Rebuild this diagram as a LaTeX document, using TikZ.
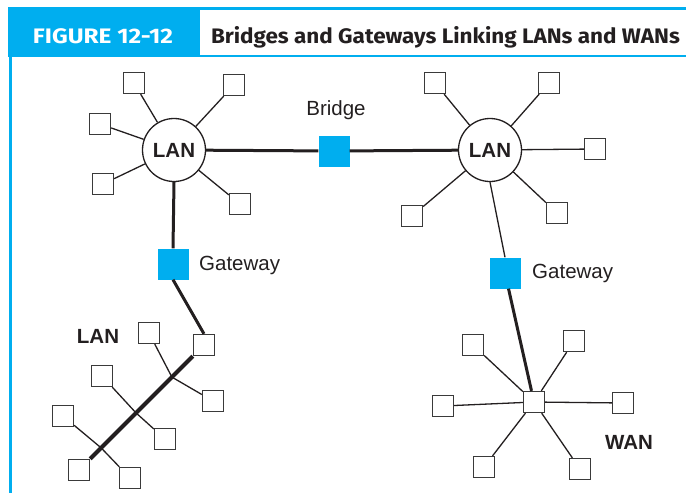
\documentclass[tikz,border=0pt]{standalone}
\usepackage{fontspec}
\usepackage{graphicx}
\setmainfont{Liberation Sans}
\newfontfamily\headfont{Fira Sans}
\usetikzlibrary{calc}

\definecolor{figblue}{HTML}{00AEEF}
\definecolor{ink}{HTML}{231F20}
\definecolor{boxline}{HTML}{3A3A3A}

\tikzset{
  term/.style={draw=boxline, line width=1.3pt, fill=white, minimum size=21pt, inner sep=0pt},
  hubbox/.style={term},
  lan/.style={circle, draw=ink, line width=1.3pt, fill=white, minimum size=63pt, inner sep=0pt,
              text=ink, font=\bfseries\fontsize{20.5}{20.5}\selectfont},
  gw/.style={fill=figblue, minimum size=31pt, inner sep=0pt},
  spoke/.style={draw=ink, line width=1.3pt},
  trunk/.style={draw=ink, line width=3pt},
  busline/.style={draw=ink, line width=4.2pt},
  lbl/.style={text=ink, inner sep=0pt, font=\fontsize{20.5}{20.5}\selectfont},
  blbl/.style={lbl, font=\bfseries\fontsize{20.5}{20.5}\selectfont},
  headtext/.style={inner sep=0pt, anchor=base, font=\headfont\bfseries\fontsize{21}{21}\selectfont},
}

\begin{document}
\begin{tikzpicture}[x=1pt, y=-1pt]
\useasboundingbox (0,0) rectangle (686,493);

% ---- header band ----
\fill[figblue] (8,7.3) rectangle (686,57);
\fill[white] (200,10) rectangle (686,55);
\draw[figblue, line width=2.5pt] (10.3,57) -- (10.3,493);
\node[headtext, text=white] (figno) at (103,43)
  {\resizebox{140pt}{\height}{FIGURE 12-12}};
\node[headtext, text=ink] (figtitle) at (445.5,43)
  {\resizebox{469pt}{\height}{Bridges and Gateways Linking LANs and WANs}};

% ---- upper left LAN ----
\node[lan] (llan) at (174,150) {LAN};
\node[term] (l1) at (134,83) {};
\node[term] (l2) at (234,85) {};
\node[term] (l3) at (100,124) {};
\node[term] (l4) at (103,184) {};
\node[term] (l5) at (240,204) {};
\foreach \t in {l1,l2,l3,l4,l5} \draw[spoke] (llan) -- (\t);

% ---- upper right LAN ----
\node[lan] (rlan) at (490,150) {LAN};
\node[term] (r1) at (435,83) {};
\node[term] (r2) at (549,83) {};
\node[term] (r3) at (595,149) {};
\node[term] (r4) at (412,216) {};
\node[term] (r5) at (557,213) {};
\foreach \t in {r1,r2,r3,r4,r5} \draw[spoke] (rlan) -- (\t);

% ---- bridge between the two LANs ----
\node[gw] (bridge) at (334,151) {};
\node[lbl] (bridgelbl) at (336,110) {Bridge};
\draw[trunk] (llan) -- (bridge) -- (rlan);

% ---- gateways ----
\node[gw] (gw1) at (173,264) {};
\node[lbl, anchor=west] (gw1lbl) at (199,265) {Gateway};
\node[gw] (gw2) at (505,273) {};
\node[lbl, anchor=west] (gw2lbl) at (532,273) {Gateway};

% ---- bus LAN (lower left) ----
\node[term] (bsq) at (204,345) {};
\node[term] (bend) at (79,470) {};
\node[term] (b1) at (149,333) {};
\node[term] (b2) at (213,401) {};
\node[term] (b3) at (102,376) {};
\node[term] (b4) at (165,439) {};
\node[term] (b5) at (63,416) {};
\node[term] (b6) at (130,478) {};
\node[blbl] (buslbl) at (98,336) {LAN};
\coordinate (j1) at ($(bsq.south west)!0.204!(bend.north east)$);
\coordinate (j2) at ($(bsq.south west)!0.553!(bend.north east)$);
\coordinate (j3) at ($(bsq.south west)!0.893!(bend.north east)$);
\draw[busline] (bsq.south west) -- (bend.north east);
\draw[spoke] (j1) -- (b1);
\draw[spoke] (j1) -- (b2);
\draw[spoke] (j2) -- (b3);
\draw[spoke] (j2) -- (b4);
\draw[spoke] (j3) -- (b5);
\draw[spoke] (j3) -- (b6);

% ---- WAN (lower right) ----
\node[hubbox] (hub) at (534,402) {};
\node[term] (w1) at (473,345) {};
\node[term] (w2) at (574,341) {};
\node[term] (w3) at (443,406) {};
\node[term] (w4) at (623,403) {};
\node[term] (w5) at (484,467) {};
\node[term] (w6) at (580,469) {};
\foreach \t in {w1,w2,w3,w4,w5,w6} \draw[spoke] (hub) -- (\t);
\node[blbl] (wanlbl) at (629,442) {WAN};

% ---- gateway links ----
\draw[trunk] (llan.south) -- (gw1.north);
\draw[trunk] (gw1.south) -- (bsq.north);
\draw[spoke] (rlan.south) -- (gw2.north);
\draw[trunk] (gw2) -- (hub);
\end{tikzpicture}
\end{document}
